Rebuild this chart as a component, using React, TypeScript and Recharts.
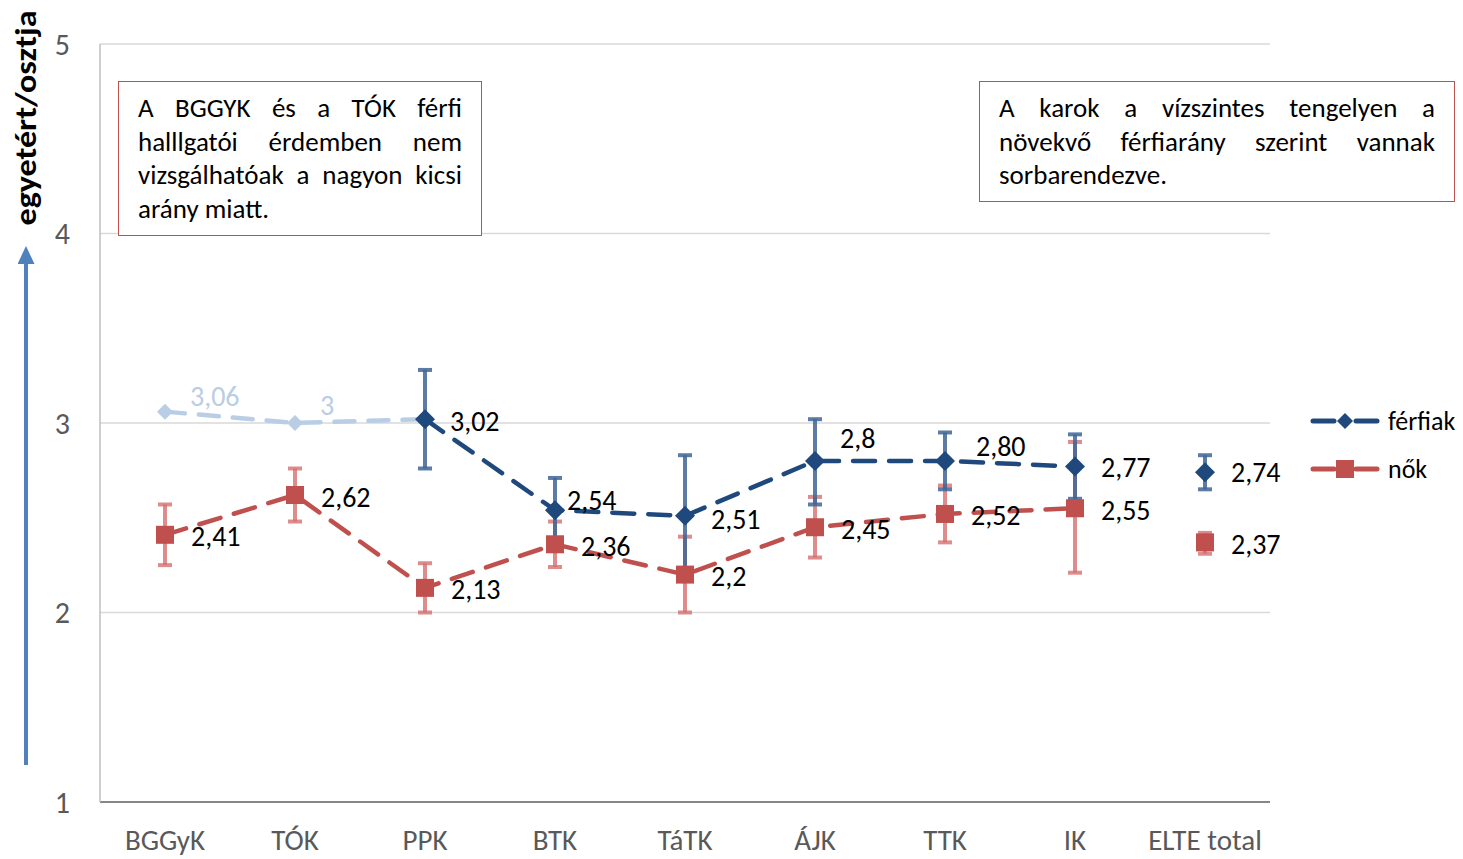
import React from 'react';
import { ComposedChart, Line, XAxis, YAxis, CartesianGrid, ErrorBar, LabelList, Legend } from 'recharts';

// ---------- data ----------
const categories = ['BGGyK', 'TÓK', 'PPK', 'BTK', 'TáTK', 'ÁJK', 'TTK', 'IK', 'ELTE total'];
const totalCategory = 'ELTE total';
const smallSampleMen = ['BGGyK', 'TÓK'];

const menValues = [3.06, 3, 3.02, 2.54, 2.51, 2.8, 2.8, 2.77, 2.74];
const menLabels = ['3,06', '3', '3,02', '2,54', '2,51', '2,8', '2,80', '2,77', '2,74'];
const menLow = [null, null, 2.76, 2.37, 2.19, 2.57, 2.65, 2.6, 2.65];
const menHigh = [null, null, 3.28, 2.71, 2.83, 3.02, 2.95, 2.94, 2.83];

const womenValues = [2.41, 2.62, 2.13, 2.36, 2.2, 2.45, 2.52, 2.55, 2.37];
const womenLabels = ['2,41', '2,62', '2,13', '2,36', '2,2', '2,45', '2,52', '2,55', '2,37'];
const womenLow = [2.25, 2.48, 2.0, 2.24, 2.0, 2.29, 2.37, 2.21, 2.31];
const womenHigh = [2.57, 2.76, 2.26, 2.48, 2.4, 2.61, 2.67, 2.9, 2.42];

const seriesNames = ['férfiak', 'nők'];
const yTicks = [1, 2, 3, 4, 5];
const yTitle = 'egyetért/osztja';
const note1Lines = ['A BGGYK és a TÓK férfi', 'halllgatói érdemben nem', 'vizsgálhatóak a nagyon kicsi', 'arány miatt.'];
const note2Lines = ['A karok a vízszintes tengelyen a', 'növekvő férfiarány szerint vannak', 'sorbarendezve.'];

// ---------- table built from arrays ----------
const lastSmallIdx = Math.max(...smallSampleMen.map((c) => categories.indexOf(c)));
const data = categories.map((cat, i) => {
  const isTotal = cat === totalCategory;
  const isSmall = smallSampleMen.includes(cat);
  const mv = menValues[i];
  const wv = womenValues[i];
  return {
    cat,
    menLight: i <= lastSmallIdx + 1 ? mv : null,
    men: !isSmall && !isTotal ? mv : null,
    menTotal: isTotal ? mv : null,
    menErr: menLow[i] != null && menHigh[i] != null ? [mv - (menLow[i] as number), (menHigh[i] as number) - mv] : null,
    women: !isTotal ? wv : null,
    womenTotal: isTotal ? wv : null,
    womenErr: [wv - womenLow[i], womenHigh[i] - wv],
  };
});

// ---------- styles ----------
const FONT = 'Carlito, Lato, "Liberation Sans", sans-serif';
const MEN = '#1f497d';
const MEN_LIGHT = '#b9cde5';
const WOMEN = '#c0504d';
const MEN_ERR = '#3f6596';
const WOMEN_ERR = '#d66f6f';
const TEXT_GRAY = '#595959';

const menLabelOffsets: Record<string, [number, number]> = {
  BGGyK: [25, -15],
  'TÓK': [25, -18],
  PPK: [25, 2],
  BTK: [12, -10],
  'TáTK': [26, 4],
  'ÁJK': [25, -22],
  TTK: [31, -14],
  IK: [26, 1],
  'ELTE total': [26, 0],
};

const diamond = (fill: string, r: number, only?: string[]) => (props: any) => {
  const { cx, cy, index } = props;
  const key = `d-${fill}-${index}`;
  if (cx == null || cy == null || !isFinite(cy)) return <g key={key} />;
  if (only && !only.includes(categories[index])) return <g key={key} />;
  return <path key={key} d={`M${cx},${cy - r}L${cx + r},${cy}L${cx},${cy + r}L${cx - r},${cy}Z`} fill={fill} />;
};

const square = (fill: string, s: number) => (props: any) => {
  const { cx, cy, index } = props;
  const key = `s-${index}`;
  if (cx == null || cy == null || !isFinite(cy)) return <g key={key} />;
  return <rect key={key} x={cx - s / 2} y={cy - s / 2} width={s} height={s} fill={fill} />;
};

const makeLabel = (labels: string[], color: string, offsets?: Record<string, [number, number]>, only?: string[]) => (props: any) => {
  const { x, y, value, index } = props;
  if (value == null || x == null || y == null || index == null) return null;
  const cat = categories[index];
  if (only && !only.includes(cat)) return null;
  const [dx, dy] = (offsets && offsets[cat]) || [26, 2];
  return (
    <text key={`l-${color}-${index}`} x={x + dx} y={y + dy} fill={color} fontSize={28} fontFamily={FONT} dominantBaseline="central">
      {labels[index]}
    </text>
  );
};

const renderLegend = () => {
  const items = [
    { name: seriesNames[0], color: MEN, shape: 'diamond' },
    { name: seriesNames[1], color: WOMEN, shape: 'square' },
  ];
  return (
    <div style={{ fontFamily: FONT }}>
      {items.map((it) => (
        <div key={it.name} style={{ display: 'flex', alignItems: 'center', height: 48 }}>
          <svg width={70} height={24} style={{ display: 'block' }}>
            <line x1={3} y1={12} x2={24} y2={12} stroke={it.color} strokeWidth={5} strokeLinecap="round" />
            <line x1={46} y1={12} x2={67} y2={12} stroke={it.color} strokeWidth={5} strokeLinecap="round" />
            {it.shape === 'diamond' ? (
              <path d="M35,4L43,12L35,20L27,12Z" fill={it.color} />
            ) : (
              <rect x={26} y={3} width={18} height={18} fill={it.color} />
            )}
          </svg>
          <span style={{ fontSize: 26, color: '#000', marginLeft: 8 }}>{it.name}</span>
        </div>
      ))}
    </div>
  );
};

const noteLine = (txt: string, i: number, n: number) => (
  <div
    key={i}
    style={{
      textAlign: 'justify',
      textAlignLast: i === n - 1 ? 'left' : 'justify',
      height: 33.6,
      lineHeight: '33.6px',
      whiteSpace: 'nowrap',
    } as React.CSSProperties}
  >
    {txt}
  </div>
);

export default function App() {
  return (
    <div style={{ position: 'absolute', left: 0, top: 0, width: 1463, height: 859, background: '#fff', fontFamily: FONT }}>
      <ComposedChart width={1463} height={859} data={data} margin={{ top: 44, right: 193, bottom: 0, left: 0 }}>
        <CartesianGrid horizontal vertical={false} stroke="#d9d9d9" strokeWidth={1.5} />
        <XAxis
          dataKey="cat"
          type="category"
          padding={{ left: 65, right: 65 }}
          height={57}
          axisLine={{ stroke: '#868686', strokeWidth: 2 }}
          tickLine={false}
          tickSize={0}
          tickMargin={27}
          interval={0}
          tick={{ fill: TEXT_GRAY, fontSize: 29, fontFamily: FONT }}
        />
        <YAxis
          type="number"
          domain={[1, 5]}
          ticks={yTicks}
          allowDataOverflow
          width={100}
          axisLine={{ stroke: '#bfbfbf', strokeWidth: 1.5 }}
          tickLine={false}
          tickSize={0}
          tickMargin={30}
          tick={{ fill: TEXT_GRAY, fontSize: 30, fontFamily: FONT }}
        />
        <Legend
          layout="horizontal"
          verticalAlign="middle"
          align="center"
          content={renderLegend}
          wrapperStyle={{ left: 1310, top: 397, width: 160, height: 100 }}
        />
        <Line
          dataKey="menLight"
          stroke={MEN_LIGHT}
          strokeWidth={4.5}
          strokeDasharray="20 14"
          strokeLinecap="round"
          dot={diamond(MEN_LIGHT, 8, smallSampleMen)}
          activeDot={false}
          isAnimationActive={false}
          legendType="none"
        >
          <LabelList dataKey="menLight" content={makeLabel(menLabels, MEN_LIGHT, menLabelOffsets, smallSampleMen)} />
        </Line>
        <Line
          dataKey="women"
          stroke={WOMEN}
          strokeWidth={4.5}
          strokeDasharray="22 14"
          strokeLinecap="round"
          dot={square(WOMEN, 18)}
          activeDot={false}
          isAnimationActive={false}
        >
          <ErrorBar dataKey="womenErr" width={7} stroke={WOMEN_ERR} strokeWidth={4} strokeOpacity={0.8} direction="y" />
          <LabelList dataKey="women" content={makeLabel(womenLabels, '#000')} />
        </Line>
        <Line
          dataKey="womenTotal"
          stroke="none"
          dot={square(WOMEN, 18)}
          activeDot={false}
          isAnimationActive={false}
          legendType="none"
        >
          <ErrorBar dataKey="womenErr" width={7} stroke={WOMEN_ERR} strokeWidth={4} strokeOpacity={0.8} direction="y" />
          <LabelList dataKey="womenTotal" content={makeLabel(womenLabels, '#000')} />
        </Line>
        <Line
          dataKey="men"
          stroke={MEN}
          strokeWidth={4.5}
          strokeDasharray="22 14"
          strokeLinecap="round"
          dot={diamond(MEN, 10)}
          activeDot={false}
          isAnimationActive={false}
        >
          <ErrorBar dataKey="menErr" width={7} stroke={MEN_ERR} strokeWidth={4} strokeOpacity={0.85} direction="y" />
          <LabelList dataKey="men" content={makeLabel(menLabels, '#000', menLabelOffsets)} />
        </Line>
        <Line
          dataKey="menTotal"
          stroke="none"
          dot={diamond(MEN, 10)}
          activeDot={false}
          isAnimationActive={false}
          legendType="none"
        >
          <ErrorBar dataKey="menErr" width={7} stroke={MEN_ERR} strokeWidth={4} strokeOpacity={0.85} direction="y" />
          <LabelList dataKey="menTotal" content={makeLabel(menLabels, '#000', menLabelOffsets)} />
        </Line>
      </ComposedChart>

      {/* y-axis title and arrow */}
      <svg width={60} height={800} style={{ position: 'absolute', left: 0, top: 0 }}>
        <defs>
          <marker id="arrowHead" markerWidth="18" markerHeight="18" refX="1" refY="8.5" orient="auto" markerUnits="userSpaceOnUse">
            <path d="M0,0L18,8.5L0,17Z" fill="#4f81bd" />
          </marker>
        </defs>
        <line x1={26} y1={765} x2={26} y2={263} stroke="#4f81bd" strokeWidth={4} markerEnd="url(#arrowHead)" />
        <text
          transform="translate(36,118) rotate(-90)"
          textAnchor="middle"
          fontFamily={FONT}
          fontWeight="bold"
          fontSize={30}
          fill="#000"
          textLength={215}
          lengthAdjust="spacingAndGlyphs"
        >
          {yTitle}
        </text>
      </svg>

      {/* annotation boxes */}
      <div
        style={{
          position: 'absolute',
          left: 118,
          top: 81,
          width: 364,
          height: 155,
          boxSizing: 'border-box',
          border: '1.5px solid #c0504d',
          padding: '9px 19px 0 19px',
          fontSize: 27,
          color: '#000',
          background: '#fff',
        }}
      >
        {note1Lines.map((t, i) => noteLine(t, i, note1Lines.length))}
      </div>
      <div
        style={{
          position: 'absolute',
          left: 979,
          top: 81,
          width: 476,
          height: 121,
          boxSizing: 'border-box',
          border: '1.5px solid #c0504d',
          padding: '9px 19px 0 19px',
          fontSize: 27,
          color: '#000',
          background: '#fff',
        }}
      >
        {note2Lines.map((t, i) => noteLine(t, i, note2Lines.length))}
      </div>
    </div>
  );
}
